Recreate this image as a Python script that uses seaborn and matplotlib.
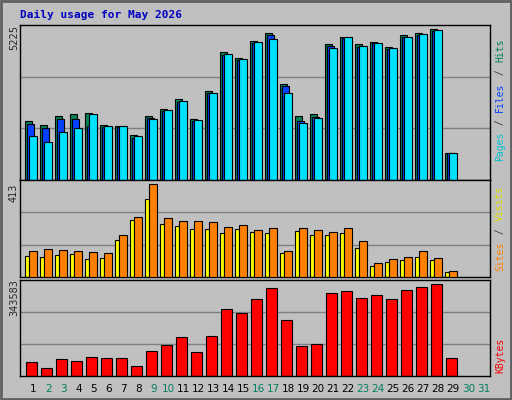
import matplotlib
matplotlib.use("Agg")
import matplotlib.pyplot as plt
import seaborn as sns
import numpy as np

sns.set_style("white")

days = list(range(1, 32))
weekend = [2, 3, 9, 10, 16, 17, 23, 24, 30, 31]
hits = [1517, 1339, 1660, 1802, 2291, 1897, 1873, 1541, 2124, 2446, 2766, 2089, 3040, 4394, 4227, 4798, 4905, 3040, 1980, 2160, 4596, 4988, 4679, 4774, 4596, 4988, 5094, 5225, 938]
files = [1968, 1802, 2124, 2124, 1873, 1837, 1837, 1481, 2160, 2410, 2731, 2054, 3040, 4358, 4192, 4786, 5047, 3277, 2041, 2196, 4667, 4964, 4643, 4786, 4572, 4976, 5059, 5190, 938]
pages = [2054, 1909, 2231, 2303, 2338, 1932, 1897, 1576, 2231, 2481, 2838, 2125, 3111, 4476, 4263, 4833, 5118, 3360, 2231, 2303, 4726, 4976, 4726, 4798, 4619, 5047, 5130, 5249, 938]
visits = [115, 123, 119, 115, 110, 106, 186, 267, 413, 263, 249, 249, 245, 223, 232, 208, 217, 115, 217, 208, 199, 217, 159, 61, 79, 88, 115, 83, 25]
sites = [92, 88, 97, 101, 79, 83, 163, 252, 345, 235, 226, 212, 212, 195, 212, 199, 195, 106, 203, 186, 186, 195, 128, 47, 65, 74, 88, 74, 21]
kbytes = [52, 30, 63, 56, 71, 67, 67, 37, 93, 115, 145, 90, 149, 249, 234, 286, 330, 209, 112, 119, 309, 317, 291, 302, 286, 323, 334, 343.583, 67]
kbytes = [k * 1000 for k in kbytes]

BG = "#C0C0C0"
fig = plt.figure(figsize=(5.12, 4.0), dpi=100, facecolor=BG)
W, H = 512, 400

def ax_px(x0, y0, x1, y1):
    a = fig.add_axes([x0 / W, 1 - y1 / H, (x1 - x0) / W, (y1 - y0) / H])
    a.set_facecolor(BG)
    a.set_xlim(0, 470 / 15)
    a.set_xticks([]); a.set_yticks([])
    for s in a.spines.values():
        s.set_color("black"); s.set_linewidth(1)
    return a

n = len(hits)
x = np.arange(n)
bw = 0.5
ec = dict(edgecolor="black", linewidth=0.8, align="edge")

# Top panel
a1 = ax_px(20, 25, 490, 180)
top1 = 5225 * 455 / 440
a1.set_ylim(0, top1)
for f in (1/3, 2/3):
    a1.axhline(top1 * f, color="#808080", lw=1, zorder=0)
a1.bar(x + 0.33, pages, bw, color="#00805A", zorder=2, **ec)
a1.bar(x + 0.46, files, bw, color="#0040FF", zorder=3, **ec)
a1.bar(x + 0.6, hits, bw, color="#00E0FF", zorder=4, **ec)

# Middle panel
a2 = ax_px(20, 180, 490, 277)
top2 = 413 * 290 / 278
a2.set_ylim(0, top2)
for f in (1/3, 2/3):
    a2.axhline(top2 * f, color="#808080", lw=1, zorder=0)
a2.bar(x + 0.33, sites, 0.3, color="#FFFF00", zorder=2, **ec)
a2.bar(x + 0.6, visits, bw, color="#FF8000", zorder=3, **ec)

# Bottom panel
a3 = ax_px(20, 280, 490, 376)
top3 = 343583 * 288 / 276
a3.set_ylim(0, top3)
for f in (1/3, 2/3):
    a3.axhline(top3 * f, color="#808080", lw=1, zorder=0)
a3.bar(x + 0.4, kbytes, 0.7, color="#FF0000", zorder=2, **ec)

# Day labels
for i, d in enumerate(days):
    xp = 20 + 15 * i + 13.3
    fig.text(xp / W, 1 - 389 / H, str(d), ha="center", va="center", fontsize=7.5,
             color="#008060" if d in weekend else "black")

fig.text(20 / W, 1 - 15 / H, "Daily usage for May 2026", color="#0000C0",
         fontsize=8, fontweight="bold", family="DejaVu Sans Mono", va="center")

for y, t in [(38, "5225"), (180 + 13, "413"), (298, "343583")]:
    fig.text(14 / W, 1 - y / H, t, rotation=90, ha="center", va="center", fontsize=7)

def right_label(yc, parts):
    total = sum(len(p) for p, _ in parts)
    ch = 6.2
    pos = yc + total * ch / 2
    for p, c in parts:
        L = len(p) * ch
        fig.text(500 / W, 1 - (pos - L / 2) / H, p, rotation=90, ha="center", va="center",
                 fontsize=7, color=c, family="DejaVu Sans Mono")
        pos -= L

right_label(100, [("Pages", "#00C0D0"), (" / ", "#404040"), ("Files", "#0040FF"), (" / ", "#404040"), ("Hits", "#00805A")])
right_label(228, [("Sites", "#FF8000"), (" / ", "#404040"), ("Visits", "#E0E000")])
right_label(355, [("KBytes", "#FF0000")])

# outer border
fig.patches.append(plt.Rectangle((0.002, 0.002), 0.996, 0.996, transform=fig.transFigure,
                                 fill=False, edgecolor="#606060", lw=2))
fig.savefig("out.png", dpi=100, facecolor=BG)
